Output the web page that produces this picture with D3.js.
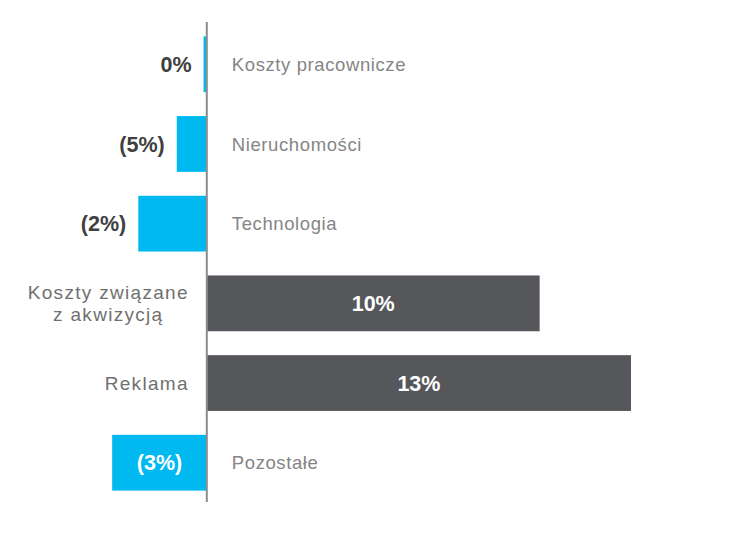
<!DOCTYPE html>
<html>
<head>
<meta charset="utf-8">
<script src="https://cdn.jsdelivr.net/npm/d3@7"></script>
<style>
  html, body { margin: 0; padding: 0; background: #ffffff; }
  svg { display: block; }
</style>
</head>
<body>
<svg id="chart" width="741" height="553"></svg>
<script>
// ---- data ----
const categories = [
  ["Koszty pracownicze"],
  ["Nieruchomości"],
  ["Technologia"],
  ["Koszty związane", "z akwizycją"],
  ["Reklama"],
  ["Pozostałe"]
];
const barValues = [-0.1, -0.92, -2.1, 10.2, 13.0, -2.9];
const valueLabels = ["0%", "(5%)", "(2%)", "10%", "13%", "(3%)"];

// ---- layout ----
const W = 741, H = 553;
const svg = d3.select("#chart");
const idx = d3.range(categories.length);

const x = d3.scaleLinear().domain([0, 13]).range([206.8, 631]);
const y = d3.scaleBand().domain(idx).range([30, 497]).paddingInner(0.3).paddingOuter(0.08);

const colNeg = "#00B9F1";
const colPos = "#55575B";

// bars
svg.append("g").selectAll("rect").data(idx).join("rect")
  .attr("x", i => Math.min(x(0), x(barValues[i])))
  .attr("width", i => Math.abs(x(barValues[i]) - x(0)))
  .attr("y", i => y(i))
  .attr("height", y.bandwidth())
  .attr("fill", i => barValues[i] < 0 ? colNeg : colPos);

// zero line
svg.append("line")
  .attr("x1", x(0)).attr("x2", x(0))
  .attr("y1", y.range()[0] - 8).attr("y2", y.range()[1] + 5)
  .attr("stroke", "#8c8c8c").attr("stroke-width", 2);

// value labels
const insideMin = 80;
svg.append("g").selectAll("text").data(idx).join("text")
  .attr("x", i => {
    const w = Math.abs(x(barValues[i]) - x(0));
    if (w > insideMin) return (x(0) + x(barValues[i])) / 2;
    return x(barValues[i]) - 12;
  })
  .attr("y", i => y(i) + y.bandwidth() / 2)
  .attr("dy", "0.36em")
  .attr("text-anchor", i => Math.abs(x(barValues[i]) - x(0)) > insideMin ? "middle" : "end")
  .attr("font-family", "'Liberation Sans', Arial, sans-serif")
  .attr("font-weight", "bold")
  .attr("font-size", "21.5px")
  .attr("fill", i => Math.abs(x(barValues[i]) - x(0)) > insideMin ? "#ffffff" : "#404040")
  .text(i => valueLabels[i]);

// category labels
const catG = svg.append("g");
idx.forEach(i => {
  const lines = categories[i];
  const cy = y(i) + y.bandwidth() / 2;
  if (barValues[i] < 0) {
    catG.append("text")
      .attr("x", x(0) + 25)
      .attr("y", cy)
      .attr("dy", "0.36em")
      .attr("font-family", "'Liberation Sans', Arial, sans-serif")
      .attr("font-size", "18.5px")
      .attr("letter-spacing", "0.6px")
      .attr("fill", "#858585")
      .text(lines[0]);
  } else {
    const lh = 22;
    const t = catG.append("text")
      .attr("font-family", "'Liberation Sans', Arial, sans-serif")
      .attr("font-size", "19px")
      .attr("letter-spacing", "1.3px")
      .attr("fill", "#707070")
      .attr("text-anchor", "middle");
    const spans = lines.map((ln, k) => t.append("tspan")
      .attr("y", cy + (k - (lines.length - 1) / 2) * lh)
      .attr("dy", "0.36em")
      .text(ln));
    const maxW = d3.max(spans, s => s.node().getComputedTextLength());
    const rightEdge = x(0) - 18;
    spans.forEach(s => s.attr("x", rightEdge - maxW / 2));
  }
});
</script>
</body>
</html>
